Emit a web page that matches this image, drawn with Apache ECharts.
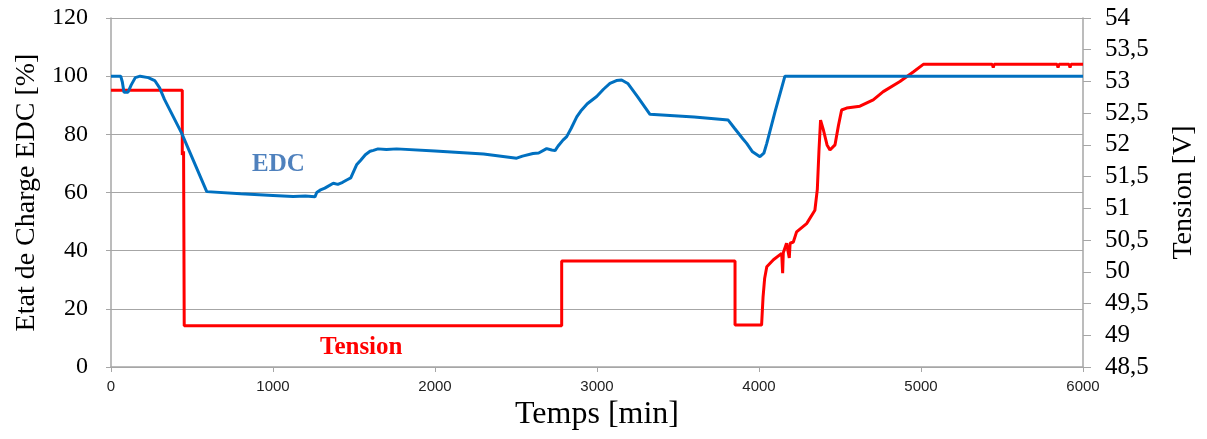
<!DOCTYPE html>
<html>
<head>
<meta charset="utf-8">
<script src="https://cdn.jsdelivr.net/npm/echarts@6/dist/echarts.min.js"></script>
<style>html,body{margin:0;padding:0;background:#fff}#c{width:1207px;height:439px}</style>
</head>
<body>
<div id="c"></div>
<script>
// ---- data ----
const edcTime  = [0,60,70,80,105,125,150,180,230,270,300,330,436,591,800,1000,1124,1200,1259,1270,1290,1320,1372,1400,1430,1455,1480,1500,1516,1540,1570,1599,1620,1648,1700,1763,2000,2300,2504,2540,2605,2640,2689,2720,2741,2760,2790,2813,2840,2875,2900,2940,2998,3040,3080,3120,3152,3190,3250,3327,3600,3810,3850,3900,3924,3960,4006,4030,4048,4100,4160,6000];
const edcValue = [100,100,98,94.5,94.5,97,99.5,100,99.5,98.5,96,92,80.4,60.3,59.6,59,58.6,58.8,58.5,60,60.8,61.5,63.2,62.8,63.5,64.3,65,67.5,69.5,71,73,74.2,74.5,75,74.8,75,74.3,73.2,71.8,72.5,73.4,73.6,75.1,74.6,74.4,76,78,79.2,82,86,88,90.5,93,95.5,97.5,98.5,98.7,97.5,93,86.9,86,84.9,82,78.5,76.9,74,72.3,73.5,76.9,88,100,100];

const tensionTime  = [0,440,440,448,452,2782,2782,3852,3852,4016,4025,4035,4048,4089,4140,4146,4150,4170,4187,4192,4212,4232,4294,4345,4360,4370,4380,4397,4420,4438,4469,4490,4510,4541,4623,4705,4767,4870,4952,5014,5440,5446,5452,5840,5846,5852,5914,5920,5926,6000];
const tensionValue = [52.86,52.86,51.84,51.9,49.15,49.15,50.17,50.17,49.16,49.16,49.6,49.9,50.08,50.19,50.29,49.98,50.3,50.45,50.22,50.45,50.47,50.63,50.76,50.97,51.3,51.9,52.39,52.24,52.0,51.92,52.0,52.3,52.55,52.58,52.61,52.71,52.84,53.0,53.15,53.27,53.27,53.22,53.27,53.27,53.22,53.27,53.27,53.22,53.27,53.27];

const leftTicks = {min: 0, max: 120, interval: 20};
const rightTicks = {min: 48.5, max: 54, interval: 0.5};
const xTicks = {min: 0, max: 6000, interval: 1000};

const axisNames = {left: 'Etat de Charge EDC [%]', right: 'Tension [V]', x: 'Temps [min]'};
const seriesLabels = {edc: 'EDC', tension: 'Tension'};

// ---- chart ----
const serif = '"Liberation Serif", "Times New Roman", serif';
const chart = echarts.init(document.getElementById('c'), null, {renderer: 'canvas'});
const axisGray = '#a6a6a6';
chart.setOption({
  animation: false,
  backgroundColor: '#fff',
  grid: {left: 111, right: 124, top: 18, bottom: 72},
  xAxis: {
    type: 'value', min: xTicks.min, max: xTicks.max, interval: xTicks.interval,
    name: axisNames.x, nameLocation: 'middle', nameGap: 31,
    nameTextStyle: {fontFamily: serif, fontSize: 32, color: '#000'},
    axisLine: {show: true, lineStyle: {color: axisGray, width: 1.5}},
    axisTick: {show: true, length: 5, lineStyle: {color: axisGray}},
    axisLabel: {fontFamily: '"Liberation Sans", Arial, sans-serif', fontSize: 15, color: '#222', margin: 12,
      formatter: v => String(v)},
    splitLine: {show: false}
  },
  yAxis: [{
    type: 'value', position: 'left', min: leftTicks.min, max: leftTicks.max, interval: leftTicks.interval,
    name: axisNames.left, nameLocation: 'middle', nameGap: 70, nameRotate: 90,
    nameTextStyle: {fontFamily: serif, fontSize: 28, color: '#000'},
    axisLine: {show: true, lineStyle: {color: axisGray, width: 1.5}},
    axisTick: {show: true, length: 5, lineStyle: {color: axisGray}},
    axisLabel: {fontFamily: serif, fontSize: 24, color: '#000', margin: 23},
    splitLine: {show: true, lineStyle: {color: '#a6a6a6', width: 1.2}}
  }, {
    type: 'value', position: 'right', min: rightTicks.min, max: rightTicks.max, interval: rightTicks.interval,
    name: axisNames.right, nameLocation: 'middle', nameGap: 87, nameRotate: 90,
    nameTextStyle: {fontFamily: serif, fontSize: 28, color: '#000'},
    axisLine: {show: true, lineStyle: {color: axisGray, width: 1.5}},
    axisTick: {show: true, length: 8, lineStyle: {color: axisGray}},
    axisLabel: {fontFamily: serif, fontSize: 25, color: '#000', margin: 22,
      formatter: v => String(v).replace('.', ',')},
    splitLine: {show: false}
  }],
  graphic: [
    {type: 'text', left: 252, top: 152, style: {text: seriesLabels.edc, font: 'bold 25px ' + serif, fill: '#4f81bd'}},
    {type: 'text', left: 320, top: 335, style: {text: seriesLabels.tension, font: 'bold 25px ' + serif, fill: '#ff0000'}}
  ],
  series: [{
    name: seriesLabels.edc, type: 'line', yAxisIndex: 0, showSymbol: false, z: 3,
    data: edcTime.map((t, i) => [t, edcValue[i]]),
    lineStyle: {color: '#0070c0', width: 3}, itemStyle: {color: '#0070c0'}
  }, {
    name: seriesLabels.tension, type: 'line', yAxisIndex: 1, showSymbol: false, z: 2,
    data: tensionTime.map((t, i) => [t, tensionValue[i]]),
    lineStyle: {color: '#ff0000', width: 3}, itemStyle: {color: '#ff0000'}
  }]
});
</script>
</body>
</html>
